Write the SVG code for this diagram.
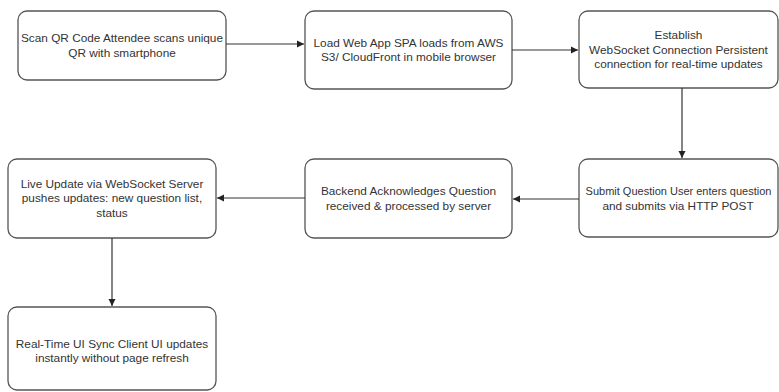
<svg xmlns="http://www.w3.org/2000/svg" width="779" height="392" viewBox="0 0 779 392">
<defs>
<marker id="ah" markerWidth="8" markerHeight="8" refX="7" refY="4" orient="auto" markerUnits="userSpaceOnUse">
<path d="M0,0.5 L7,4 L0,7.5 Z" fill="#222"/>
</marker>
<style>
.box{fill:#fff;stroke:#555;stroke-width:1.3}
.t{font-family:"Liberation Sans",Arial,sans-serif;font-size:11.8px;fill:#333;text-anchor:middle}
.c{stroke:#333;stroke-width:1.2;fill:none;marker-end:url(#ah)}
</style>
</defs>
<rect width="779" height="392" fill="#fff"/>
<g id="n1"><rect class="box" x="18" y="11" width="208" height="69" rx="9"/>
<text class="t" x="122" y="42">Scan QR Code Attendee scans unique</text>
<text class="t" x="122" y="57">QR with smartphone</text></g>
<g id="n2"><rect class="box" x="305" y="11" width="207" height="78" rx="9"/>
<text class="t" x="408.5" y="47">Load Web App SPA loads from AWS</text>
<text class="t" x="408.5" y="61">S3/ CloudFront in mobile browser</text></g>
<g id="n3"><rect class="box" x="579" y="11" width="199" height="77" rx="9"/>
<text class="t" x="678.5" y="39">Establish</text>
<text class="t" x="678.5" y="54">WebSocket Connection Persistent</text>
<text class="t" x="678.5" y="68">connection for real-time updates</text></g>
<g id="n4"><rect class="box" x="579" y="159" width="199" height="78" rx="9"/>
<text class="t" x="678.5" y="195" style="font-size:11px">Submit Question User enters question</text>
<text class="t" x="678" y="210">and submits via HTTP POST</text></g>
<g id="n5"><rect class="box" x="305" y="159" width="207" height="79" rx="9"/>
<text class="t" x="408.5" y="195">Backend Acknowledges Question</text>
<text class="t" x="408.5" y="210">received &amp; processed by server</text></g>
<g id="n6"><rect class="box" x="8" y="159" width="208" height="79" rx="9"/>
<text class="t" x="112" y="188">Live Update via WebSocket Server</text>
<text class="t" x="112" y="202">pushes updates: new question list,</text>
<text class="t" x="112" y="217">status</text></g>
<g id="n7"><rect class="box" x="8" y="307" width="208" height="83" rx="9"/>
<text class="t" x="112" y="348">Real-Time UI Sync Client UI updates</text>
<text class="t" x="112" y="362">instantly without page refresh</text></g>
<g id="connectors">
<line class="c" x1="226" y1="44" x2="304" y2="44"/>
<line class="c" x1="512" y1="50" x2="578" y2="50"/>
<line class="c" x1="682" y1="88" x2="682" y2="158"/>
<line class="c" x1="579" y1="199" x2="513" y2="199"/>
<line class="c" x1="305" y1="198" x2="217" y2="198"/>
<line class="c" x1="112" y1="238" x2="112" y2="306"/>
</g>
</svg>
